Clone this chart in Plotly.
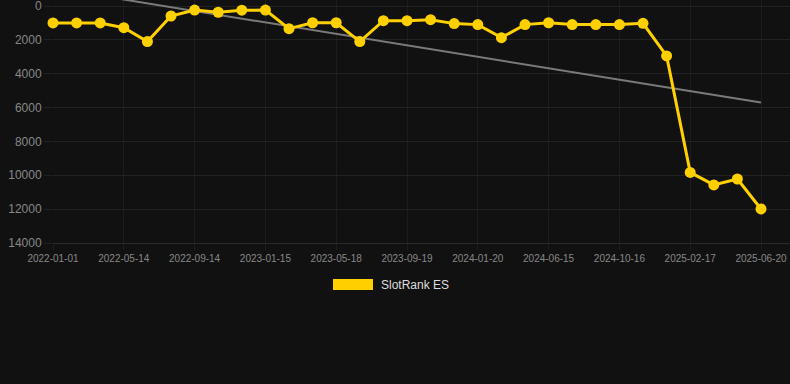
import numpy as np
import plotly.graph_objects as go

dates = [
    "2022-01-01", "2022-02-14", "2022-03-30", "2022-05-14", "2022-06-27", "2022-08-10",
    "2022-09-14", "2022-10-28", "2022-12-01", "2023-01-15", "2023-02-28", "2023-04-10",
    "2023-05-18", "2023-06-30", "2023-08-10", "2023-09-19", "2023-10-30", "2023-12-10",
    "2024-01-20", "2024-03-05", "2024-04-30", "2024-06-15", "2024-07-25", "2024-09-05",
    "2024-10-16", "2024-11-28", "2025-01-05", "2025-02-17", "2025-03-30", "2025-05-10",
    "2025-06-20",
]
rank = [
    1000, 1000, 1000, 1280, 2100, 590, 240, 370, 250, 240, 1340, 990, 990, 2100, 870,
    870, 810, 1040, 1100, 1870, 1100, 990, 1100, 1100, 1100, 1025, 2950, 9830, 10570,
    10220, 11990,
]
y_ticks = [0, 2000, 4000, 6000, 8000, 10000, 12000, 14000]
series_name = "SlotRank ES"

idx = np.arange(len(rank))
slope, intercept = np.polyfit(idx, rank, 1)
trend = slope * idx + intercept

W, H = 790, 384
L, R, T, B = 53, 0, 0, 141
pw, ph = W - L - R, H - T - B
# value 0 sits 6px below the top of the plot area
y_top = -6 * 14000 / (243 - 6)

def px(x):
    return (x - L) / pw

def py(y):
    return (H - B - y) / ph

fig = go.Figure()
fig.add_trace(go.Scatter(
    x=idx, y=trend, mode="lines",
    line=dict(color="#7a7a7a", width=2),
    hoverinfo="skip", showlegend=False,
))
fig.add_trace(go.Scatter(
    x=idx, y=rank, mode="lines+markers", name=series_name,
    line=dict(color="#ffd000", width=3),
    marker=dict(color="#ffd000", size=11),
    showlegend=False, cliponaxis=False,
))

fig.add_shape(type="rect", xref="paper", yref="paper",
              x0=px(333), x1=px(373), y0=py(290), y1=py(279),
              fillcolor="#ffd000", line=dict(width=0))
fig.add_annotation(xref="paper", yref="paper", x=px(379), y=py(284.5),
                   text=series_name, showarrow=False, xanchor="left", yanchor="middle",
                   font=dict(size=12, color="#dddddd", family="Liberation Sans, Arial"))

last = len(rank) - 1
fig.update_layout(
    width=W, height=H,
    margin=dict(l=L, r=R, t=T, b=B),
    paper_bgcolor="#111111", plot_bgcolor="#111111",
    font=dict(family="Liberation Sans, Arial", color="#888888"),
    xaxis=dict(
        range=[0, last + (W - 761) / ((761 - 53) / last)],
        tickvals=idx[::3], ticktext=[dates[i] for i in idx[::3]],
        tickfont=dict(size=10, color="#888888"),
        showgrid=True, gridcolor="#1d1d1d", gridwidth=1,
        zeroline=False, showline=True, linecolor="#2a2a2a",
        ticks="outside", ticklen=6, tickcolor="#1d1d1d",
        ticklabeloverflow="allow",
    ),
    yaxis=dict(
        range=[14000, y_top], tickvals=y_ticks, ticktext=[str(v) for v in y_ticks],
        tickfont=dict(size=12, color="#888888"),
        showgrid=True, gridcolor="#222222", gridwidth=1,
        zeroline=False, ticks="outside", ticklen=8, tickcolor="#222222",
        ticklabeloverflow="allow",
    ),
    showlegend=False,
)

fig.write_html("out.html", config={"displayModeBar": False},
               post_script="document.body.style.margin='0';document.body.style.background='#111111';")
